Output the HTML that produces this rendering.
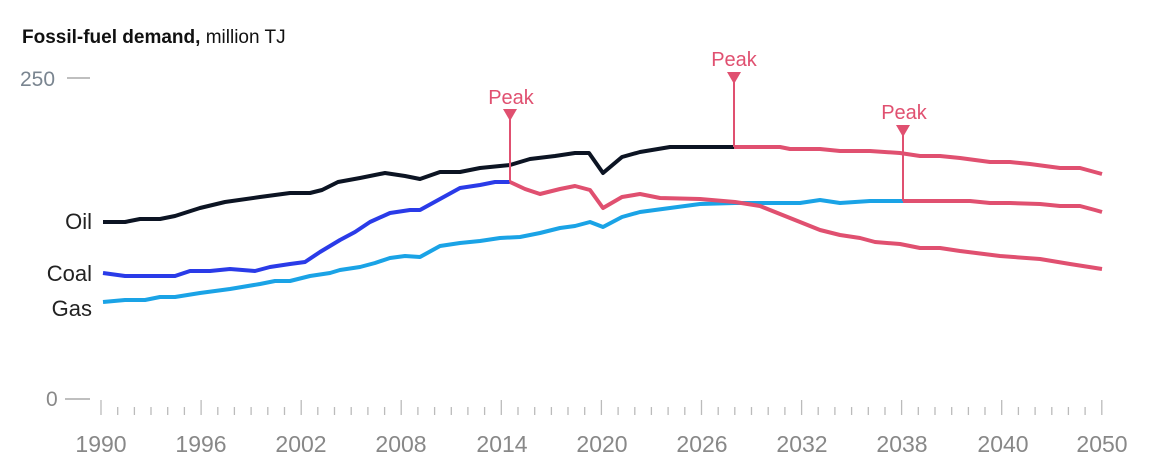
<!DOCTYPE html>
<html><head><meta charset="utf-8"><style>
body{margin:0;background:#fff;}
svg{display:block;font-family:"Liberation Sans",sans-serif;}
</style></head><body>
<svg width="1169" height="472" viewBox="0 0 1169 472">
<text x="22" y="43" font-size="19" fill="#111"><tspan font-weight="bold">Fossil-fuel demand,</tspan> million TJ</text>
<text x="20" y="86" font-size="21" fill="#7a8590">250</text>
<line x1="67" y1="78" x2="90" y2="78" stroke="#aaa" stroke-width="1.5"/>
<text x="46" y="406" font-size="21" fill="#888">0</text>
<line x1="65" y1="399" x2="90" y2="399" stroke="#aaa" stroke-width="1.5"/>
<g fill="#222" font-size="22" text-anchor="end">
<text x="92" y="229">Oil</text><text x="92" y="281">Coal</text><text x="92" y="316">Gas</text>
</g>
<path stroke="#bbb" stroke-width="1.3" fill="none" d="M101 400V415M117.7 407V415M134.4 407V415M151 407V415M167.7 407V415M184.4 407V415M201.1 400V415M217.8 407V415M234.4 407V415M251.1 407V415M267.8 407V415M284.5 407V415M301.2 400V415M317.8 407V415M334.5 407V415M351.2 407V415M367.9 407V415M384.6 407V415M401.2 400V415M417.9 407V415M434.6 407V415M451.3 407V415M467.9 407V415M484.6 407V415M501.3 400V415M518 407V415M534.7 407V415M551.4 407V415M568 407V415M584.7 407V415M601.4 400V415M618.1 407V415M634.8 407V415M651.4 407V415M668.1 407V415M684.8 407V415M701.5 400V415M718.2 407V415M734.8 407V415M751.5 407V415M768.2 407V415M784.9 407V415M801.6 400V415M818.2 407V415M834.9 407V415M851.6 407V415M868.3 407V415M885 407V415M901.6 400V415M918.3 407V415M935 407V415M951.7 407V415M968.4 407V415M985 407V415M1001.7 400V415M1018.4 407V415M1035.1 407V415M1051.8 407V415M1068.4 407V415M1085.1 407V415M1101.8 400V415"/>
<g font-size="23" fill="#888" text-anchor="middle">
<text x="101" y="452">1990</text><text x="201" y="452">1996</text><text x="301" y="452">2002</text><text x="401" y="452">2008</text><text x="502" y="452">2014</text><text x="602" y="452">2020</text><text x="702" y="452">2026</text><text x="802" y="452">2032</text><text x="902" y="452">2038</text><text x="1003" y="452">2040</text><text x="1102" y="452">2050</text>
</g>
<g fill="none" stroke-width="4" stroke-linejoin="round">
<polyline stroke="#0c1423" points="103,222 125,222 140,219 160,219 175,216 200,208 225,202 260,197 290,193 310,193 322,190 338,182 360,178 385,173 405,176 420,179 440,172 460,172 480,168 500,166 510,165 530,159 555,156 575,153 589,153 603,173 622,157 640,152 670,147 734,147"/>
<polyline stroke="#2a3be8" points="103,273 125,276 175,276 190,271 210,271 230,269 255,271 270,267 290,264 305,262 320,252 340,240 355,232 370,222 390,213 410,210 420,210 440,199 460,188 480,185 495,182 510,182"/>
<polyline stroke="#1aa3e6" points="103,302 125,300 145,300 160,297 175,297 200,293 230,289 260,284 275,281 290,281 310,276 330,273 340,270 360,267 375,263 390,258 405,256 420,257 440,246 460,243 480,241 500,238 520,237 540,233 560,228 575,226 590,222 603,227 622,217 640,212 670,208 700,204 735,203 800,203 820,200 840,203 870,201 903,201"/>
<polyline stroke="#e05070" points="510,182 525,189 540,194 560,189 575,186 590,190 603,208 622,197 640,194 660,198 700,199 735,202 760,206 780,214 800,222 820,230 840,235 860,238 875,242 900,244 920,248 940,248 960,251 1000,256 1040,259 1070,264 1102,269"/>
<polyline stroke="#e05070" points="734,147 780,147 790,149 820,149 840,151 870,151 900,153 920,156 940,156 960,158 990,162 1010,162 1030,164 1060,168 1080,168 1102,174"/>
<polyline stroke="#e05070" points="903,201 970,201 990,203 1010,203 1040,204 1060,206 1080,206 1095,210 1102,212"/>
</g>
<g stroke="#e05070" stroke-width="2" fill="#e05070">
<line x1="510" y1="112" x2="510" y2="182"/><polygon points="503,109 517,109 510,121" stroke="none"/>
<line x1="734" y1="75" x2="734" y2="147"/><polygon points="727,72 741,72 734,84" stroke="none"/>
<line x1="903" y1="128" x2="903" y2="201"/><polygon points="896,125 910,125 903,137" stroke="none"/>
</g>
<g fill="#e05070" font-size="20" text-anchor="middle">
<text x="511" y="104">Peak</text><text x="734" y="66">Peak</text><text x="904" y="119">Peak</text>
</g>
</svg>
</body></html>
